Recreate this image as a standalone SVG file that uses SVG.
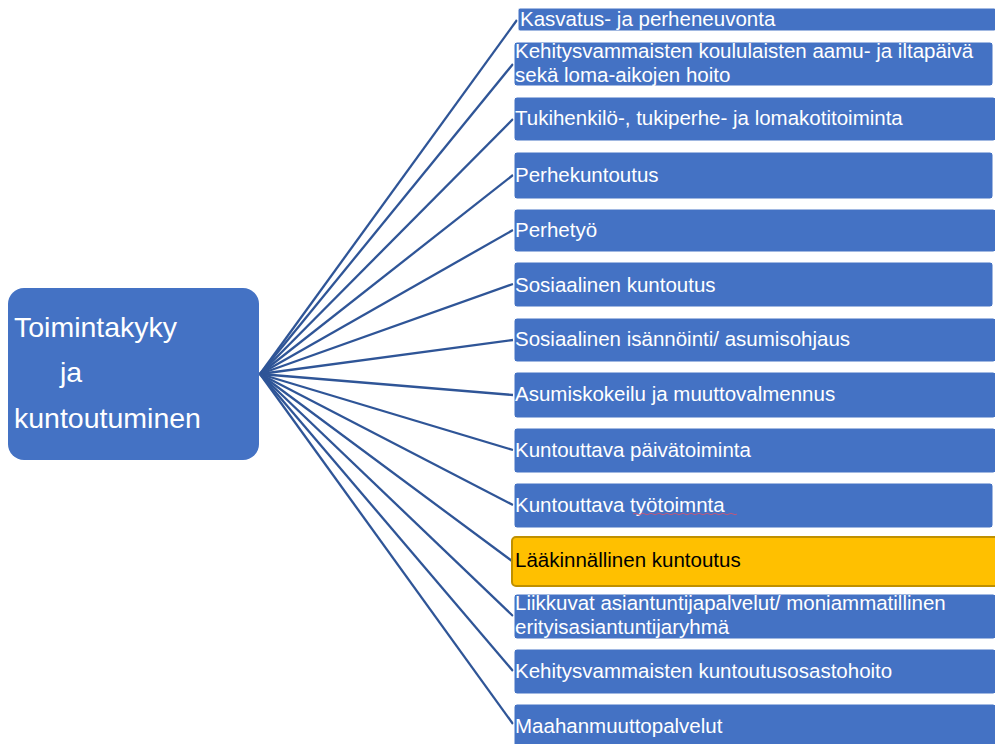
<svg xmlns="http://www.w3.org/2000/svg" width="995" height="744" viewBox="0 0 995 744">
<style>
.box{fill:#4472C4;stroke:#ffffff;stroke-width:1}
.gold{fill:#FFC000;stroke:#BF9000;stroke-width:2}
.lbl{font-family:"Liberation Sans",Arial,sans-serif;font-size:20.5px;fill:#ffffff}
.dark{fill:#000000}
.main{font-family:"Liberation Sans",Arial,sans-serif;font-size:28.5px;fill:#ffffff}
.con line{stroke:#2F5597;stroke-width:2.3}
</style>
<rect width="995" height="744" fill="#ffffff"/>
<g class="con">
<line x1="260" y1="374" x2="517" y2="20"/>
<line x1="260" y1="374" x2="513" y2="64"/>
<line x1="260" y1="374" x2="513" y2="119"/>
<line x1="260" y1="374" x2="513" y2="175"/>
<line x1="260" y1="374" x2="513" y2="230"/>
<line x1="260" y1="374" x2="513" y2="284"/>
<line x1="260" y1="374" x2="513" y2="340"/>
<line x1="260" y1="374" x2="513" y2="395"/>
<line x1="260" y1="374" x2="513" y2="450"/>
<line x1="260" y1="374" x2="513" y2="505"/>
<line x1="260" y1="374" x2="512" y2="561"/>
<line x1="260" y1="374" x2="513" y2="616"/>
<line x1="260" y1="374" x2="513" y2="671"/>
<line x1="260" y1="374" x2="513" y2="724"/>
</g>
<g id="center">
<rect x="8" y="288" width="251" height="172" rx="16" fill="#4472C4"/>
<text class="main" x="14" y="337">Toimintakyky</text>
<text class="main" x="60" y="382">ja</text>
<text class="main" x="14" y="428">kuntoutuminen</text>
</g>
<g id="n1"><rect class="box" x="518" y="8" width="478" height="23" rx="2"/><text class="lbl" x="520" y="26">Kasvatus- ja perheneuvonta</text></g>
<g id="n2"><rect class="box" x="514" y="42" width="479" height="44" rx="3"/><text class="lbl" x="515" y="58">Kehitysvammaisten koululaisten aamu- ja iltapäivä</text><text class="lbl" x="515" y="82">sekä loma-aikojen hoito</text></g>
<g id="n3"><rect class="box" x="514" y="97" width="482" height="44" rx="3"/><text class="lbl" x="515" y="125">Tukihenkilö-, tukiperhe- ja lomakotitoiminta</text></g>
<g id="n4"><rect class="box" x="514" y="152" width="479" height="47" rx="3"/><text class="lbl" x="515" y="182">Perhekuntoutus</text></g>
<g id="n5"><rect class="box" x="514" y="209" width="482" height="43" rx="3"/><text class="lbl" x="515" y="237">Perhetyö</text></g>
<g id="n6"><rect class="box" x="514" y="262" width="479" height="45" rx="3"/><text class="lbl" x="515" y="292">Sosiaalinen kuntoutus</text></g>
<g id="n7"><rect class="box" x="514" y="318" width="482" height="44" rx="3"/><text class="lbl" x="515" y="346">Sosiaalinen isännöinti/ asumisohjaus</text></g>
<g id="n8"><rect class="box" x="514" y="372" width="482" height="46" rx="3"/><text class="lbl" x="515" y="401">Asumiskokeilu ja muuttovalmennus</text></g>
<g id="n9"><rect class="box" x="514" y="428" width="482" height="45" rx="3"/><text class="lbl" x="515" y="457">Kuntouttava päivätoiminta</text></g>
<g id="n10"><rect class="box" x="514" y="483" width="479" height="45" rx="3"/><text class="lbl" x="515" y="512">Kuntouttava työtoimnta</text><path d="M633 514 q2 -1.5 4 0 t4 0 t4 0 t4 0 t4 0 t4 0 t4 0 t4 0 t4 0 t4 0 t4 0 t4 0 t4 0 t4 0 t4 0 t4 0 t4 0 t4 0 t4 0 t4 0 t4 0 t4 0 t4 0 t4 0 t4 0 t4 0" fill="none" stroke="#E0506A" stroke-width="0.8"/></g>
<g id="n11"><rect class="gold" x="512" y="537" width="486" height="49" rx="4"/><text class="lbl dark" x="515" y="567">Lääkinnällinen kuntoutus</text></g>
<g id="n12"><rect class="box" x="514" y="594" width="482" height="45" rx="3"/><text class="lbl" x="515" y="610">Liikkuvat asiantuntijapalvelut/ moniammatillinen</text><text class="lbl" x="515" y="634">erityisasiantuntijaryhmä</text></g>
<g id="n13"><rect class="box" x="514" y="649" width="482" height="45" rx="3"/><text class="lbl" x="515" y="678">Kehitysvammaisten kuntoutusosastohoito</text></g>
<g id="n14"><rect class="box" x="514" y="704" width="482" height="45" rx="3"/><text class="lbl" x="515" y="733">Maahanmuuttopalvelut</text></g>
</svg>
